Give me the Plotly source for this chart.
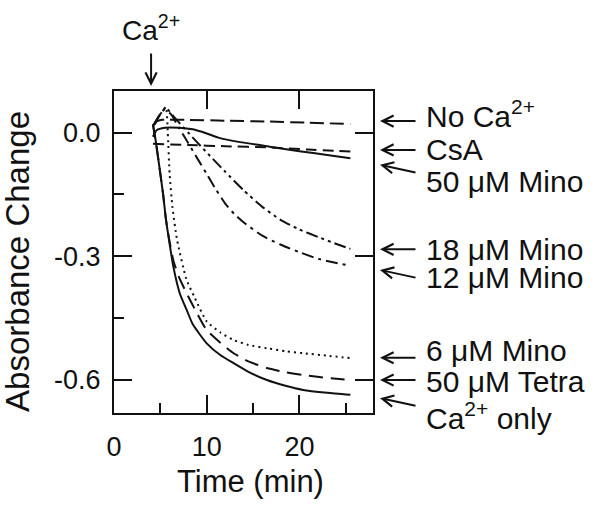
import plotly.graph_objects as go

FONT = "Liberation Sans, Arial, sans-serif"
INK = "#111111"

# ---- data (time in min, absorbance change) ----
labels = ["No Ca<sup>2+</sup>", "CsA", "50 μM Mino", "18 μM Mino",
          "12 μM Mino", "6 μM Mino", "50 μM Tetra", "Ca<sup>2+</sup> only"]

t_no_ca = [4.2, 4.6, 5.2, 8.0, 12.0, 16.8, 21.0, 25.5]
a_no_ca = [0.015, 0.027, 0.031, 0.031, 0.029, 0.027, 0.024, 0.021]

t_csa = [4.2, 8.0, 12.0, 16.8, 21.0, 25.5]
a_csa = [-0.027, -0.030, -0.033, -0.036, -0.041, -0.046]

t_mino50 = [4.2, 4.6, 5.5, 7.0, 8.5, 10.0, 11.25, 13.6, 16.8, 20.0, 23.0, 25.5]
a_mino50 = [-0.010, 0.006, 0.012, 0.012, 0.008, -0.002, -0.012, -0.023, -0.034, -0.045, -0.054, -0.062]

t_mino18 = [4.3, 5.0, 5.6, 6.4, 8.0, 10.0, 12.0, 14.0, 16.0, 18.0, 20.0, 22.0, 24.0, 25.5]
a_mino18 = [0.020, 0.045, 0.060, 0.040, 0.000, -0.048, -0.095, -0.140, -0.180, -0.212, -0.235, -0.253, -0.270, -0.282]

t_mino12 = [4.3, 5.0, 5.5, 6.2, 7.0, 8.0, 9.0, 10.0, 11.0, 12.0, 13.0, 14.0, 16.0, 18.0, 20.0, 22.0, 24.0, 25.5]
a_mino12 = [0.020, 0.045, 0.058, 0.043, 0.012, -0.025, -0.063, -0.100, -0.138, -0.172, -0.198, -0.218, -0.250, -0.272, -0.290, -0.306, -0.316, -0.323]

t_mino6 = [4.4, 5.0, 5.6, 5.8, 6.0, 6.3, 6.8, 7.8, 8.7, 10.0, 11.5, 12.9, 14.5, 16.5, 18.5, 20.4, 23.0, 25.5]
a_mino6 = [0.020, 0.045, 0.062, 0.000, -0.100, -0.180, -0.260, -0.355, -0.400, -0.458, -0.485, -0.503, -0.515, -0.523, -0.530, -0.535, -0.541, -0.547]

t_tetra = [4.2, 4.5, 5.0, 5.3, 5.6, 6.0, 6.4, 7.0, 7.84, 9.0, 10.0, 11.5, 12.9, 14.5, 16.5, 18.5, 20.4, 23.0, 25.5]
a_tetra = [0.020, -0.020, -0.100, -0.150, -0.210, -0.265, -0.310, -0.350, -0.390, -0.440, -0.479, -0.510, -0.535, -0.555, -0.571, -0.581, -0.588, -0.595, -0.600]

t_ca_only = [4.2, 4.5, 5.0, 5.3, 5.6, 6.0, 6.4, 7.1, 7.84, 8.5, 10.0, 11.5, 12.9, 14.5, 16.5, 18.5, 20.4, 23.0, 25.5]
a_ca_only = [0.020, -0.020, -0.100, -0.150, -0.210, -0.270, -0.325, -0.390, -0.430, -0.465, -0.511, -0.540, -0.559, -0.580, -0.600, -0.614, -0.624, -0.631, -0.636]

x_ticks = [0, 10, 20]
x_ticktext = ["0", "10", "20"]
y_ticks = [0.0, -0.3, -0.6]
y_ticktext = ["0.0", "-0.3", "-0.6"]

# ---- styles / label placement ----
dashes = ["14px,6px", "11px,6px", "solid", "12px,4px,3px,4px,3px,4px",
          "12px,5px,3px,5px", "2px,4px", "14px,8px", "solid"]
label_y = [0.045, -0.042, -0.119, -0.284, -0.352, -0.529, -0.604, -0.687]
arrow_y = [0.028, -0.042, -0.078, -0.283, -0.333, -0.546, -0.600, -0.644]
arrow_dy = [0, 0, 8, 0, 8, 0, 0, 8]

times = [t_no_ca, t_csa, t_mino50, t_mino18, t_mino12, t_mino6, t_tetra, t_ca_only]
values = [a_no_ca, a_csa, a_mino50, a_mino18, a_mino12, a_mino6, a_tetra, a_ca_only]

xr = [0, 27.94]
yr = [-0.68, 0.101]


def to_paper(v):
    return (v - yr[0]) / (yr[1] - yr[0])


fig = go.Figure()
for name, t, a, d in zip(labels, times, values, dashes):
    fig.add_trace(go.Scatter(x=t, y=a, mode="lines", name=name,
                             line=dict(color=INK, width=2, dash=d,
                                       shape="spline", smoothing=0.5)))

# empty trace so the mirrored top/right axes get drawn
fig.add_trace(go.Scatter(x=[], y=[], xaxis="x2", yaxis="y2", showlegend=False))

axis_common = dict(showgrid=False, zeroline=False, tickcolor=INK, tickwidth=2)

fig.update_layout(
    width=600, height=508, autosize=False,
    margin=dict(l=114, r=227, t=91, b=95),
    plot_bgcolor="white", paper_bgcolor="white",
    showlegend=False,
    font=dict(family=FONT, size=27, color=INK),
    xaxis=dict(range=xr, tickmode="array", tickvals=x_ticks, ticktext=x_ticktext,
               ticks="inside", ticklen=18, showline=True, linewidth=2,
               linecolor=INK, mirror=True, ticklabelstandoff=9,
               minor=dict(dtick=5, tick0=0, ticks="inside", ticklen=10,
                          tickwidth=2, tickcolor=INK, showgrid=False),
               **axis_common),
    yaxis=dict(range=yr, tickmode="array", tickvals=y_ticks, ticktext=y_ticktext,
               ticks="inside", ticklen=18, showline=True, linewidth=2,
               linecolor=INK, mirror=True, ticklabelstandoff=6,
               minor=dict(dtick=0.15, tick0=0, ticks="inside", ticklen=10,
                          tickwidth=2, tickcolor=INK, showgrid=False),
               **axis_common),
    xaxis2=dict(range=xr, overlaying="x", side="top", anchor="y2",
                tickmode="array", tickvals=[10, 20], ticks="inside", ticklen=18,
                showticklabels=False, showline=False, **axis_common),
    yaxis2=dict(range=yr, overlaying="y", side="right", anchor="x2",
                tickmode="array", tickvals=y_ticks, ticks="inside", ticklen=18,
                showticklabels=False, showline=False, **axis_common),
)

annotations = []
# right-hand labels with arrows
for lab, ly, ay_, dy in zip(labels, label_y, arrow_y, arrow_dy):
    annotations.append(dict(xref="paper", yref="paper", x=1.197, y=to_paper(ly),
                            text=lab, showarrow=False, xanchor="left",
                            yanchor="middle", font=dict(size=30)))
    annotations.append(dict(xref="paper", yref="paper", x=1.027, y=to_paper(ay_),
                            text="", showarrow=True, ax=37, ay=dy,
                            axref="pixel", ayref="pixel",
                            arrowhead=5, arrowsize=1.1, arrowwidth=2,
                            arrowcolor=INK, standoff=0))

# Ca2+ addition marker
annotations.append(dict(xref="x", yref="paper", x=4.0, y=1.0155, text="",
                        showarrow=True, ax=0, ay=-34, arrowhead=5, arrowsize=1.1,
                        arrowwidth=2, arrowcolor=INK, standoff=0))
annotations.append(dict(xref="paper", yref="paper", x=0.023, y=1.195,
                        text="Ca<sup>2+</sup>", showarrow=False, xanchor="left",
                        yanchor="middle", font=dict(size=28)))

# axis titles
annotations.append(dict(xref="paper", yref="paper", x=-0.375, y=0.472,
                        text="Absorbance Change", textangle=-90, showarrow=False,
                        xanchor="center", yanchor="middle", font=dict(size=33)))
annotations.append(dict(xref="paper", yref="paper", x=0.527, y=-0.213,
                        text="Time (min)", showarrow=False,
                        xanchor="center", yanchor="middle", font=dict(size=31)))

fig.update_layout(annotations=annotations)

# drop the default page margin so the figure sits at the window's corner
fig.write_html("out.html", config={"displayModeBar": False},
               post_script="document.body.style.margin='0';")
